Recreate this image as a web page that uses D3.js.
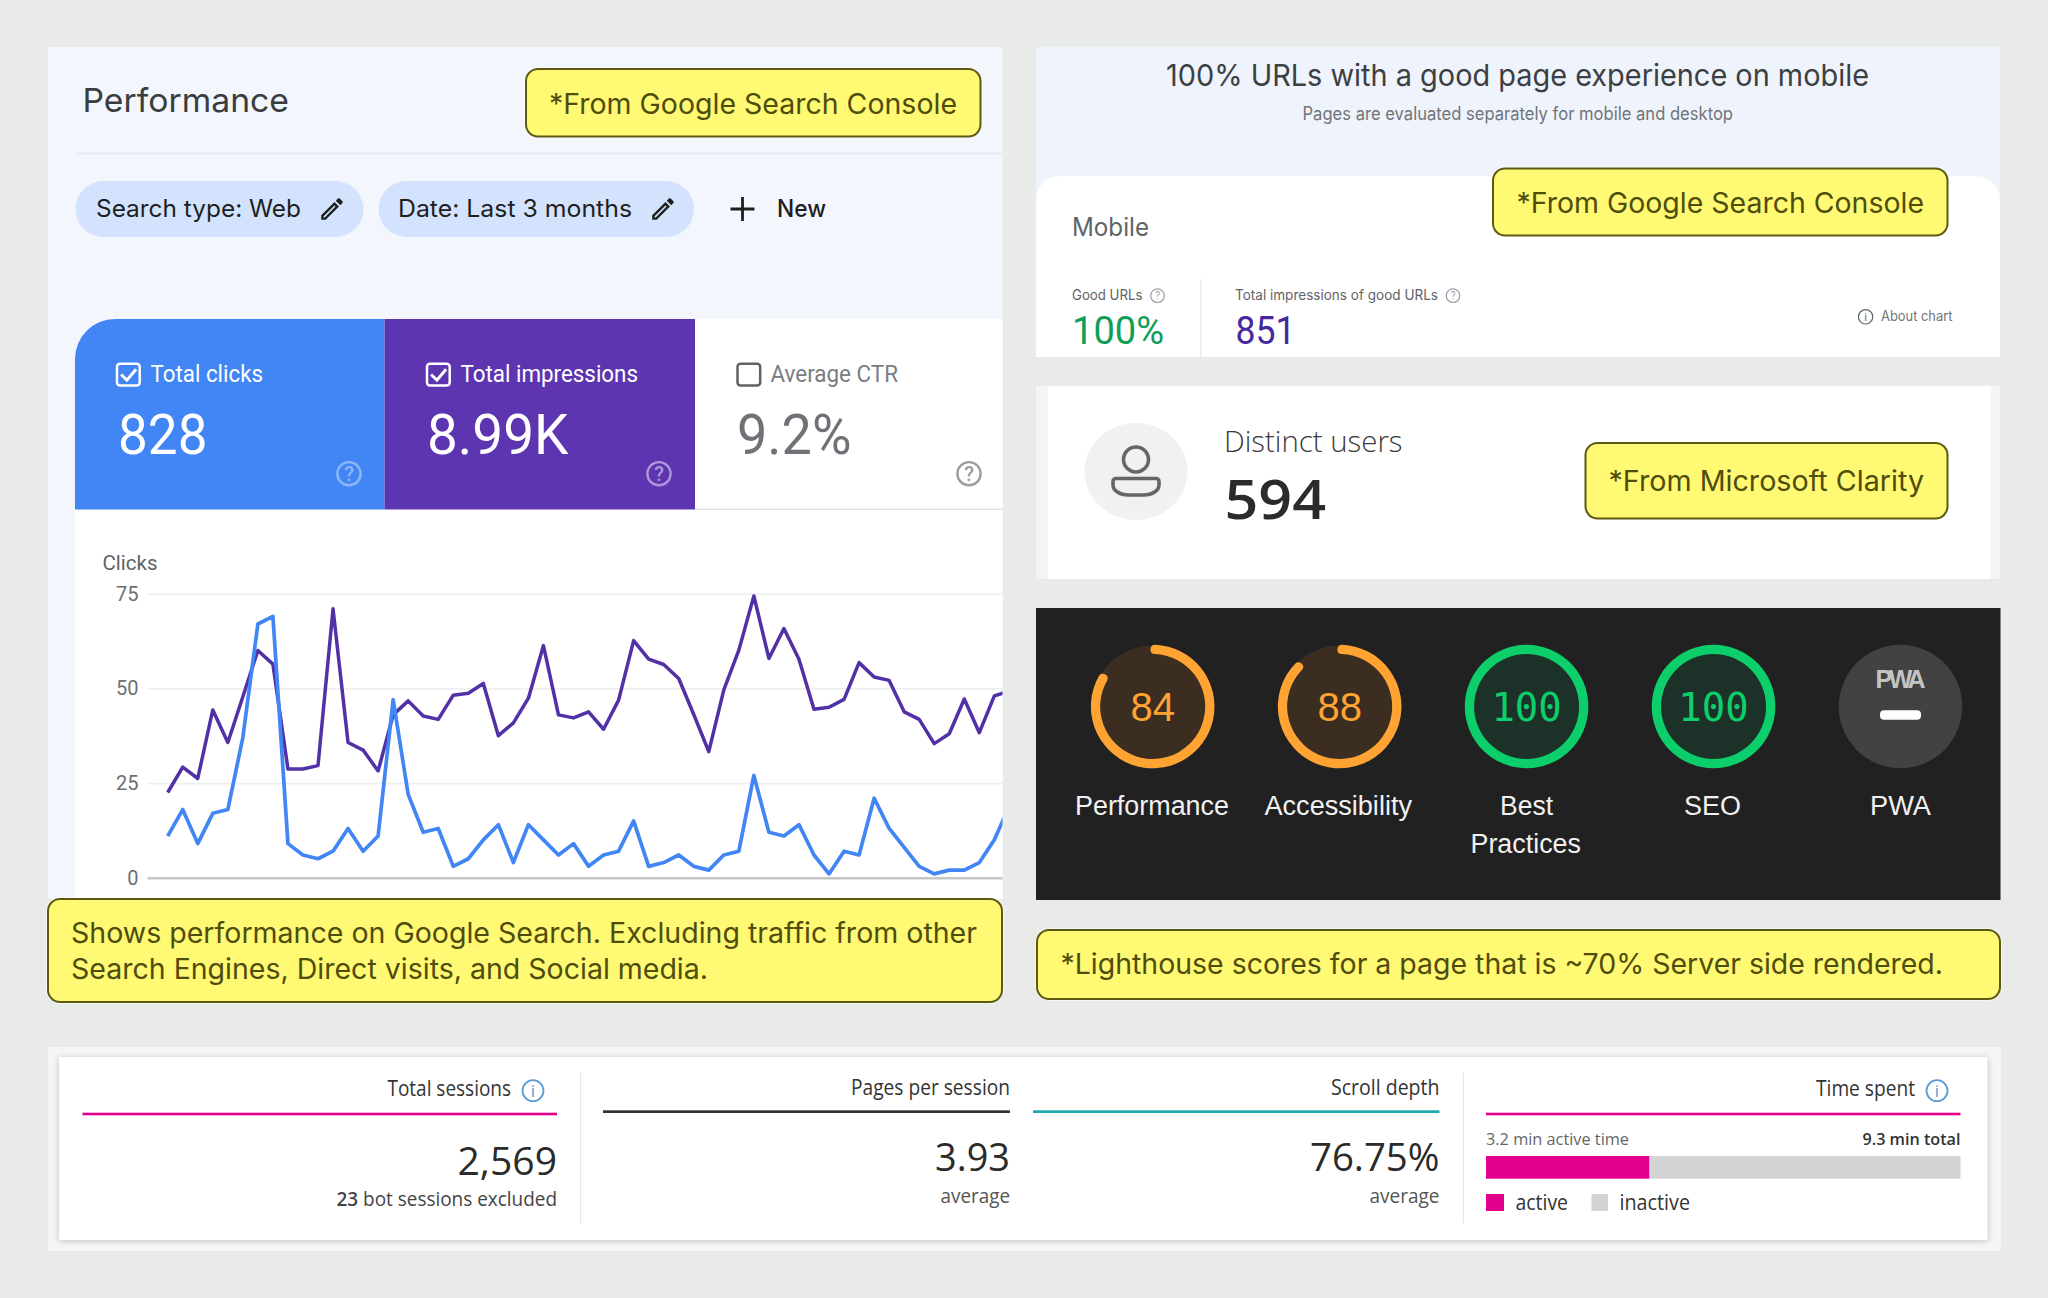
<!DOCTYPE html>
<html>
<head>
<meta charset="utf-8">
<script src="https://cdn.jsdelivr.net/npm/d3@7"></script>
<style>
html,body{margin:0;padding:0;background:#e9ebe9;}
svg{display:block;}
text{white-space:pre;}
</style>
</head>
<body>
<svg id="c" width="2048" height="1298" viewBox="0 0 2048 1298"></svg>
<script>
// ---------- data ----------
const clicks = [11,18,9,17,18,37,67,69,9,6,5,7,13,7,11,47,22,12,13,3,5,10,14,4,14,10,6,9,3,6,7,15,3,4,6,3,2,6,7,27,12,11,14,6,1,7,6,21,13,8,3,1,2,2,4,10,19];
const impressions = [22.5,29.2,26.2,44.3,35.7,47.8,60,56.4,28.7,28.7,29.6,71,35.7,33.7,28.2,43,46.7,42.7,41.8,48.2,48.7,51.3,37.5,40.9,47.4,61.3,43,42.2,43.8,39.2,46.9,62.6,57.7,56.3,52.6,43.1,33.3,49.6,60.1,74.4,57.9,65.8,57.7,44.5,45,47.1,56.8,53,52.1,43.8,41.8,35.4,38,47.2,38.3,48,49.3];
const yTicks = [0,25,50,75];
const gaugeScores = [84,88,100,100];
const activeMinutes = 3.2;
const totalMinutes = 9.3;

// ---------- helpers ----------
const svg = d3.select("#c");
const SANS = "Roboto, sans-serif", INTER = "Inter, Roboto, sans-serif", OPEN = "'Open Sans', sans-serif", LIB = "'Liberation Sans', Arial, sans-serif";
const YFILL = "#fff973", YSTROKE = "#5c5a12", YTEXT = "#4f4d0c";

function rect(x0, y0, x1, y1, fill, rx) {
  const r = svg.append("rect").attr("x", x0).attr("y", y0).attr("width", x1 - x0).attr("height", y1 - y0).attr("fill", fill);
  if (rx) r.attr("rx", rx);
  return r;
}
// left / right are the ends of the text; the string is fitted between them
function txt(s, left, right, base, size, family, fill, weight) {
  const t = svg.append("text").attr("x", left).attr("y", base)
    .attr("font-size", size).attr("font-family", family).attr("fill", fill)
    .attr("font-weight", weight || 400).text(s);
  if (right != null) t.attr("textLength", right - left).attr("lengthAdjust", "spacingAndGlyphs");
  return t;
}
function note(x0, y0, x1, y1) {
  rect(x0 - 2, y0 - 2, x1 + 2, y1 + 2, "#ffffff", 14).attr("opacity", 0.5);
  rect(x0, y0, x1, y1, YFILL, 12).attr("stroke", YSTROKE).attr("stroke-width", 2);
}
function help(cx, cy, r, stroke, size) {
  svg.append("circle").attr("cx", cx).attr("cy", cy).attr("r", r).attr("fill", "none").attr("stroke", stroke).attr("stroke-width", r > 9 ? 2.4 : 1.2);
  svg.append("text").attr("x", cx).attr("y", cy + size * 0.36).attr("text-anchor", "middle").attr("font-size", size).attr("font-weight", r > 9 ? 500 : 400).attr("font-family", SANS).attr("fill", stroke).text("?");
}
function info(cx, cy, r, stroke, size) {
  svg.append("circle").attr("cx", cx).attr("cy", cy).attr("r", r).attr("fill", "none").attr("stroke", stroke).attr("stroke-width", r > 9 ? 1.8 : 1.2);
  svg.append("text").attr("x", cx).attr("y", cy + size * 0.36).attr("text-anchor", "middle").attr("font-size", size).attr("font-family", OPEN).attr("fill", stroke).text("i");
}
const PENCIL = "M14.06 9.02l.92.92L5.92 19H5v-.92l9.06-9.06M17.66 3c-.25 0-.51.1-.7.29l-1.83 1.83 3.75 3.75 1.83-1.83c.39-.39.39-1.02 0-1.41l-2.34-2.34c-.2-.2-.45-.29-.71-.29zm-3.6 3.19L3 17.25V21h3.75L17.81 9.94l-3.75-3.75z";
function pencil(cx, cy) {
  svg.append("path").attr("d", PENCIL).attr("fill", "#1f1f1f")
    .attr("transform", `translate(${cx - 14.4},${cy - 14.4}) scale(1.2)`);
}
function checkbox(x, y, stroke, checked) {
  rect(x + 0.5, y + 0.3, x + 23.2, y + 22, "none", 3).attr("stroke", stroke).attr("stroke-width", 2.5);
  if (checked) svg.append("path").attr("d", `M${x + 4.6} ${y + 11}l5.8 5.6l9.2 -10.8`).attr("fill", "none").attr("stroke", stroke).attr("stroke-width", 3);
}

// ---------- page ----------
rect(0, 0, 2048, 1298, "#e9ebe9");

// left panel
rect(48, 47, 1002.5, 899, "#f3f6fd", 3);
txt("Performance", 82.5, 289, 112, 33, INTER, "#3a3d40", 400);
rect(74, 152.5, 1002.5, 154.5, "#e8ecf3");
rect(75.5, 181, 363.5, 237, "#d3e3fd", 28);
rect(378.5, 181, 694, 237, "#d3e3fd", 28);
txt("Search type: Web", 96, 301, 216.5, 24, INTER, "#1f1f1f", 400);
pencil(332, 209);
txt("Date: Last 3 months", 398, 632, 216.5, 24, INTER, "#1f1f1f", 400);
pencil(663, 209);
svg.append("path").attr("d", "M742.5 197v24M730.5 209h24").attr("stroke", "#1f1f1f").attr("stroke-width", 2.8).attr("fill", "none");
txt("New", 777, 826, 216.5, 24, INTER, "#1f1f1f", 500);

// metric cards + chart background
svg.append("path").attr("d", "M75 899V359a40 40 0 0 1 40 -40H1002.5V899Z").attr("fill", "#ffffff");
svg.append("path").attr("d", "M75 509.5V359a40 40 0 0 1 40 -40H384.5V509.5Z").attr("fill", "#4285f4");
rect(384.5, 319, 695, 509.5, "#5e35b1");
rect(695, 508.5, 1002.5, 510, "#e3e3e3");

checkbox(116.5, 363.5, "#ffffff", true);
txt("Total clicks", 150.5, 263, 382.3, 23, SANS, "#ffffff", 400);
txt("828", 118, 207.5, 454, 55, SANS, "#ffffff", 400);
help(349, 473.7, 11.6, "#8fb6f8", 20);

checkbox(426.5, 363.5, "#ffffff", true);
txt("Total impressions", 460.5, 638, 382.3, 23, SANS, "#ffffff", 400);
txt("8.99K", 427, 568.5, 454, 55, SANS, "#ffffff", 400);
help(659, 473.7, 11.6, "#ac96dc", 20);

checkbox(737, 363.5, "#5f6368", false);
txt("Average CTR", 770.5, 898, 382.3, 23, SANS, "#7a7d82", 400);
txt("9.2%", 737, 851.5, 454, 55, SANS, "#6f7377", 400);
help(969, 473.7, 11.6, "#9a9da0", 20);

// ---------- chart ----------
const x = d3.scaleLinear().domain([0, clicks.length - 1]).range([167.7, 167.7 + 15.03 * (clicks.length - 1)]);
const y = d3.scaleLinear().domain([0, 75]).range([877.7, 593.7]);
txt("Clicks", 102.5, 157.5, 570, 21, SANS, "#5f6368", 400);

const axis = svg.append("g").attr("transform", "translate(147.5,0)")
  .call(d3.axisLeft(y).tickValues(yTicks).tickSize(-(1002.5 - 147.5)).tickPadding(9));
axis.select(".domain").remove();
axis.selectAll("text").attr("font-size", 20).attr("font-family", SANS).attr("fill", "#6b6f73");
axis.selectAll(".tick line").attr("stroke", d => d === 0 ? "#c6c6c6" : "#eeeff1").attr("stroke-width", d => d === 0 ? 2.4 : 1.8);

svg.append("clipPath").attr("id", "plot").append("rect").attr("x", 147.5).attr("y", 580).attr("width", 855).attr("height", 318);
const line = d3.line().x((d, i) => x(i)).y(d => y(d));
const plot = svg.append("g").attr("clip-path", "url(#plot)");
plot.append("path").datum(impressions).attr("d", line).attr("fill", "none").attr("stroke", "#5230a6").attr("stroke-width", 3.5).attr("stroke-linejoin", "round");
plot.append("path").datum(clicks).attr("d", line).attr("fill", "none").attr("stroke", "#4285f4").attr("stroke-width", 3.7).attr("stroke-linejoin", "round");

// left notes
note(526, 69, 980.5, 136.5);
txt("*From Google Search Console", 549, 957, 113.7, 28, INTER, YTEXT, 400);
note(48, 899, 1002, 1002);
txt("Shows performance on Google Search. Excluding traffic from other", 71, 977, 942.7, 28, INTER, YTEXT, 400);
txt("Search Engines, Direct visits, and Social media.", 71, 708, 978.5, 28, INTER, YTEXT, 400);

// ---------- right top ----------
rect(1036, 47, 2000, 357, "#eff3fb", 3);
svg.append("path").attr("d", "M1036 357V200a24 24 0 0 1 24 -24H1976a24 24 0 0 1 24 24V357Z").attr("fill", "#ffffff");
txt("100% URLs with a good page experience on mobile", 1166, 1869, 86, 30, INTER, "#3c4043", 400);
txt("Pages are evaluated separately for mobile and desktop", 1302.5, 1733, 120, 18, INTER, "#70757a", 400);
txt("Mobile", 1072, 1149, 236, 25, INTER, "#5f6368", 400);
txt("Good URLs", 1072, 1142.5, 300, 14, INTER, "#5f6368", 400);
help(1157.5, 295.7, 6.8, "#9aa0a6", 10);
rect(1200, 279, 1201.3, 357, "#ececec");
txt("Total impressions of good URLs", 1235, 1438, 300, 14, INTER, "#5f6368", 400);
help(1453, 295.7, 6.8, "#9aa0a6", 10);
txt("100%", 1072, 1164, 344, 38, SANS, "#0f9d58", 400);
txt("851", 1235.5, 1295.5, 344, 38, SANS, "#4527a0", 400);
info(1865.6, 316.8, 7.2, "#5f6368", 11);
txt("About chart", 1881, 1952.5, 321, 14, INTER, "#70757a", 400);
note(1493, 168.5, 1947.5, 235.5);
txt("*From Google Search Console", 1516.5, 1924, 213, 28, INTER, YTEXT, 400);

// distinct users
rect(1036, 386, 2000, 579, "#f3f5f5");
rect(1048, 386, 1990.5, 579, "#ffffff");
svg.append("ellipse").attr("cx", 1136).attr("cy", 471.5).attr("rx", 51.5).attr("ry", 48.5).attr("fill", "#f1f1f1");
svg.append("circle").attr("cx", 1136).attr("cy", 459.5).attr("r", 12.5).attr("fill", "none").attr("stroke", "#666666").attr("stroke-width", 3.6);
svg.append("path").attr("d", "M1116 478.5H1156a3 3 0 0 1 3 3V485a15 10 0 0 1 -15 10H1128a15 10 0 0 1 -15 -10V481.5a3 3 0 0 1 3 -3Z").attr("fill", "none").attr("stroke", "#666666").attr("stroke-width", 3.6);
txt("Distinct users", 1224, 1402.5, 451.5, 30, OPEN, "#3a3a3a", 300);
txt("594", 1224.5, 1326, 519, 55, OPEN, "#2b2b2b", 600);
note(1585.5, 443, 1947.5, 518.5);
txt("*From Microsoft Clarity", 1608.5, 1924, 491, 28, INTER, YTEXT, 400);

// ---------- lighthouse ----------
rect(1036, 608, 2000.5, 900, "#212121");
const gaugeX = d3.scalePoint().domain([0, 1, 2, 3, 4]).range([1152.7, 1900.5]);
const gaugeArc = d3.arc().innerRadius(52.5).outerRadius(61.8).cornerRadius(4.6);
const angle = d3.scaleLinear().domain([0, 100]).range([0, 2 * Math.PI]);
gaugeScores.forEach((s, i) => {
  const c = s >= 90 ? "#0cce6b" : "#ffa333";
  const track = s >= 90 ? "#1c3228" : "#3b2d20";
  const g = svg.append("g").attr("transform", `translate(${gaugeX(i)},706.5)`);
  g.append("circle").attr("r", 61).attr("fill", track);
  g.append("path").attr("d", gaugeArc({ startAngle: s >= 100 ? 0 : -0.04, endAngle: s >= 100 ? angle(s) : angle(s) + 0.03 })).attr("fill", c);
  g.append("text").attr("y", s >= 100 ? 14 : 14.5).attr("text-anchor", "middle")
    .attr("font-size", s >= 100 ? 39 : 40)
    .attr("font-family", s >= 100 ? "'DejaVu Sans Mono', monospace" : LIB)
    .attr("fill", c).text(s);
});
const pwaG = svg.append("g").attr("transform", `translate(${gaugeX(4)},706.5)`);
pwaG.append("circle").attr("r", 61.7).attr("fill", "#424242");
pwaG.append("text").attr("x", -25).attr("y", -18.3).attr("textLength", 50).attr("lengthAdjust", "spacing").attr("font-size", 25).attr("font-family", LIB).attr("font-weight", 700).attr("fill", "#c4c4c4").text("PWA");
pwaG.append("rect").attr("x", -20.5).attr("y", 3.7).attr("width", 41).attr("height", 9.5).attr("rx", 4).attr("fill", "#ffffff");

txt("Performance", 1075, 1229, 815, 27, LIB, "#f1f1f1");
txt("Accessibility", 1264.5, 1412, 815, 27, LIB, "#f1f1f1");
txt("Best", 1500, 1553, 815, 27, LIB, "#f1f1f1");
txt("Practices", 1470.5, 1581, 853, 27, LIB, "#f1f1f1");
txt("SEO", 1684, 1741, 815, 27, LIB, "#f1f1f1");
txt("PWA", 1870, 1931, 815, 27, LIB, "#f1f1f1");

note(1037, 930, 2000, 999);
txt("*Lighthouse scores for a page that is ~70% Server side rendered.", 1060.5, 1943, 973.5, 28, INTER, YTEXT, 400);

// ---------- clarity strip ----------
rect(48, 1047, 2001, 1251, "#f4f5f5");
rect(59, 1057, 1987.5, 1240, "#ffffff").style("filter", "drop-shadow(0 1px 3px rgba(0,0,0,0.22))");
rect(580, 1073, 581, 1223, "#e6e6e6");
rect(1463, 1073, 1464, 1223, "#e6e6e6");

txt("Total sessions", 387.5, 511, 1096, 21, OPEN, "#333333", 400);
info(533, 1090.7, 10.5, "#5a9bd8", 17);
rect(82.5, 1112.7, 557, 1115.3, "#e3008c");
txt("2,569", 457.5, 557, 1174.5, 39, OPEN, "#2b2b2b", 500);
const botT = txt("", 336.5, 557, 1205.5, 20, OPEN, "#444444", 400);
botT.append("tspan").attr("font-weight", 600).text("23");
botT.append("tspan").text(" bot sessions excluded");

txt("Pages per session", 851, 1010, 1095, 21, OPEN, "#333333", 400);
rect(603, 1110.3, 1010, 1113, "#333333");
txt("3.93", 935, 1010, 1171, 39, OPEN, "#2b2b2b", 500);
txt("average", 940.5, 1010, 1203, 20, OPEN, "#555555", 400);

txt("Scroll depth", 1331, 1439.5, 1095, 21, OPEN, "#333333", 400);
rect(1033, 1110.3, 1439.5, 1113, "#1fa7ad");
txt("76.75%", 1310, 1439.5, 1171, 39, OPEN, "#2b2b2b", 500);
txt("average", 1369.5, 1439.5, 1203, 20, OPEN, "#555555", 400);

txt("Time spent", 1816, 1915, 1096, 21, OPEN, "#333333", 400);
info(1937, 1090.7, 10.5, "#5a9bd8", 17);
rect(1486, 1112.7, 1960.5, 1115.3, "#e3008c");
txt("3.2 min active time", 1486, 1629, 1145, 17, OPEN, "#666666", 400);
txt("9.3 min total", 1862.5, 1960.5, 1145, 17, OPEN, "#333333", 600);

const timeX = d3.scaleLinear().domain([0, totalMinutes]).range([1486, 1960.5]);
rect(timeX(activeMinutes), 1156, timeX(totalMinutes), 1178.7, "#d4d4d4");
rect(timeX(0), 1156, timeX(activeMinutes), 1178.7, "#e3008c");
rect(1486, 1194, 1504, 1211, "#e3008c");
txt("active", 1515.5, 1568, 1209.5, 21, OPEN, "#333333", 400);
rect(1591.5, 1194, 1608, 1211, "#d4d4d4");
txt("inactive", 1619.5, 1690, 1209.5, 21, OPEN, "#333333", 400);
</script>
</body>
</html>
